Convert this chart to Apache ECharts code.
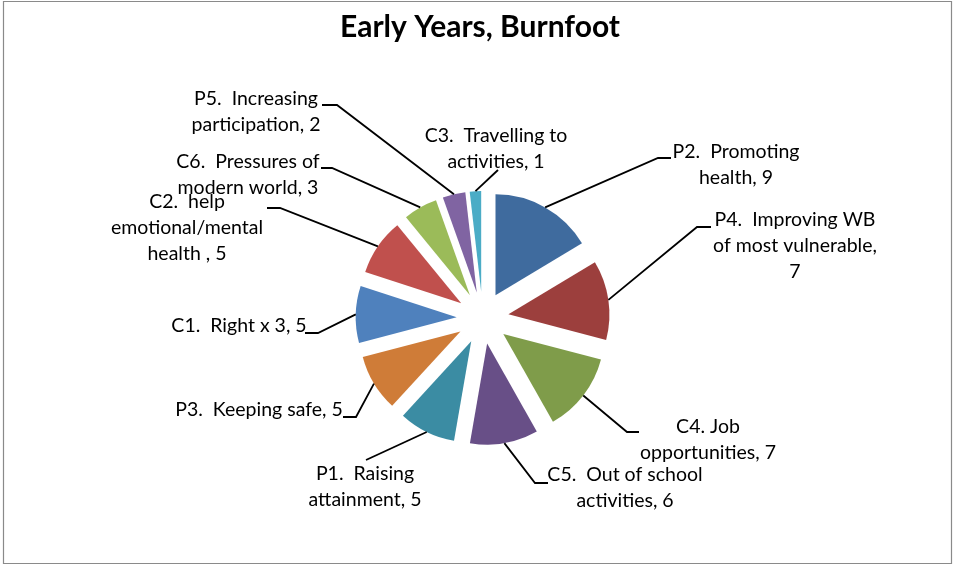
<!DOCTYPE html>
<html><head><meta charset="utf-8">
<script src="https://cdn.jsdelivr.net/npm/echarts@6/dist/echarts.min.js"></script>
<style>html,body{margin:0;padding:0;background:#fff}#c{width:955px;height:566px}</style>
</head><body><div id="c"></div>
<script>
// ---- data ----
const chartTitle = 'Early Years, Burnfoot';
const categories = [
  'P2.  Promoting\nhealth',
  'P4.  Improving WB\nof most vulnerable',
  'C4. Job\nopportunities',
  'C5.  Out of school\nactivities',
  'P1.  Raising\nattainment',
  'P3.  Keeping safe',
  'C1.  Right x 3',
  'C2.  help\nemotional/mental\nhealth ',
  'C6.  Pressures of\nmodern world',
  'P5.  Increasing\nparticipation',
  'C3.  Travelling to\nactivities'
];
const values = [9, 7, 7, 6, 5, 5, 5, 5, 3, 2, 1];
const valueOnNewLine = [false, true, false, false, false, false, false, false, false, false, false];

// ---- styles / layout ----
const colors = ['#3F6B9E', '#9C3F3D', '#7F9C4A', '#684F87', '#3B8CA3', '#CF7C38',
                '#4F81BD', '#C0504D', '#9BBB59', '#8064A2', '#4BACC6'];
const explode = 26;
// label center x, label top y, elbow x, elbow y, end x (null: no horizontal part)
const labelPos = [
  [736, 139, 658, 158, 671],
  [795, 207, 697, 227, 711],
  [708, 414, 627, 432, 639],
  [625, 462, 535, 483, 548],
  [365, 461, 366, 460, null],
  [259, 397, 356, 417, 343],
  [239, 313, 318, 333, 305],
  [187, 189, 280, 208, 267],
  [248, 149, 332, 168, 321],
  [256, 86, 337, 105, 322],
  [496, 123, 498, 170, null]
];
const labelFont = {fontFamily: 'Lato', fontSize: 19.5, lineHeight: 26};

const chart = echarts.init(document.getElementById('c'), null, {renderer: 'canvas'});
const data = categories.map((n, i) => ({name: n, value: values[i], selected: true, itemStyle: {color: colors[i]}}));

chart.setOption({
  animation: false,
  backgroundColor: '#fff',
  title: {
    text: chartTitle, left: 475, top: 7, textAlign: 'center',
    textStyle: {fontFamily: 'Lato', fontWeight: 'bold', fontSize: 30, color: '#000'}
  },
  graphic: [{
    id: 'frame', type: 'rect', shape: {x: 3.5, y: 1.5, width: 948, height: 562},
    style: {fill: null, stroke: '#8a8a8a', lineWidth: 1.2}, silent: true
  }],
  series: [{
    type: 'pie',
    center: [482.7, 318],
    radius: 101,
    startAngle: 90,
    clockwise: true,
    selectedMode: 'multiple',
    selectedOffset: explode,
    silent: true,
    emphasis: {disabled: true},
    itemStyle: {borderWidth: 0},
    label: {show: false},
    labelLine: {show: false},
    data: data
  }]
});

// labels and leader lines, anchored on the pie's own computed sector layout
const sd = chart.getModel().getSeriesByIndex(0).getData();
const els = [];
categories.forEach((name, i) => {
  const L = labelPos[i];
  const text = name + ',' + (valueOnNewLine[i] ? '\n' : ' ') + values[i];
  els.push({
    id: 'lbl' + i, type: 'text', silent: true, z: 10,
    style: {
      text: text, x: L[0], y: L[1], fill: '#000',
      align: 'center', verticalAlign: 'top', textAlign: 'center', textVerticalAlign: 'top',
      fontFamily: labelFont.fontFamily, fontSize: labelFont.fontSize, lineHeight: labelFont.lineHeight
    }
  });
  const lay = sd.getItemLayout(i);
  if (lay) {
    const mid = (lay.startAngle + lay.endAngle) / 2;
    const R = lay.r + explode;
    const sx = lay.cx + Math.cos(mid) * R, sy = lay.cy + Math.sin(mid) * R;
    const pts = [[sx, sy], [L[2], L[3]]];
    if (L[4] != null) pts.push([L[4], L[3]]);
    els.push({
      id: 'line' + i, type: 'polyline', silent: true, z: 10,
      shape: {points: pts},
      style: {fill: null, stroke: '#000', lineWidth: 1.8}
    });
  }
});
chart.setOption({graphic: els});
</script>
</body></html>
